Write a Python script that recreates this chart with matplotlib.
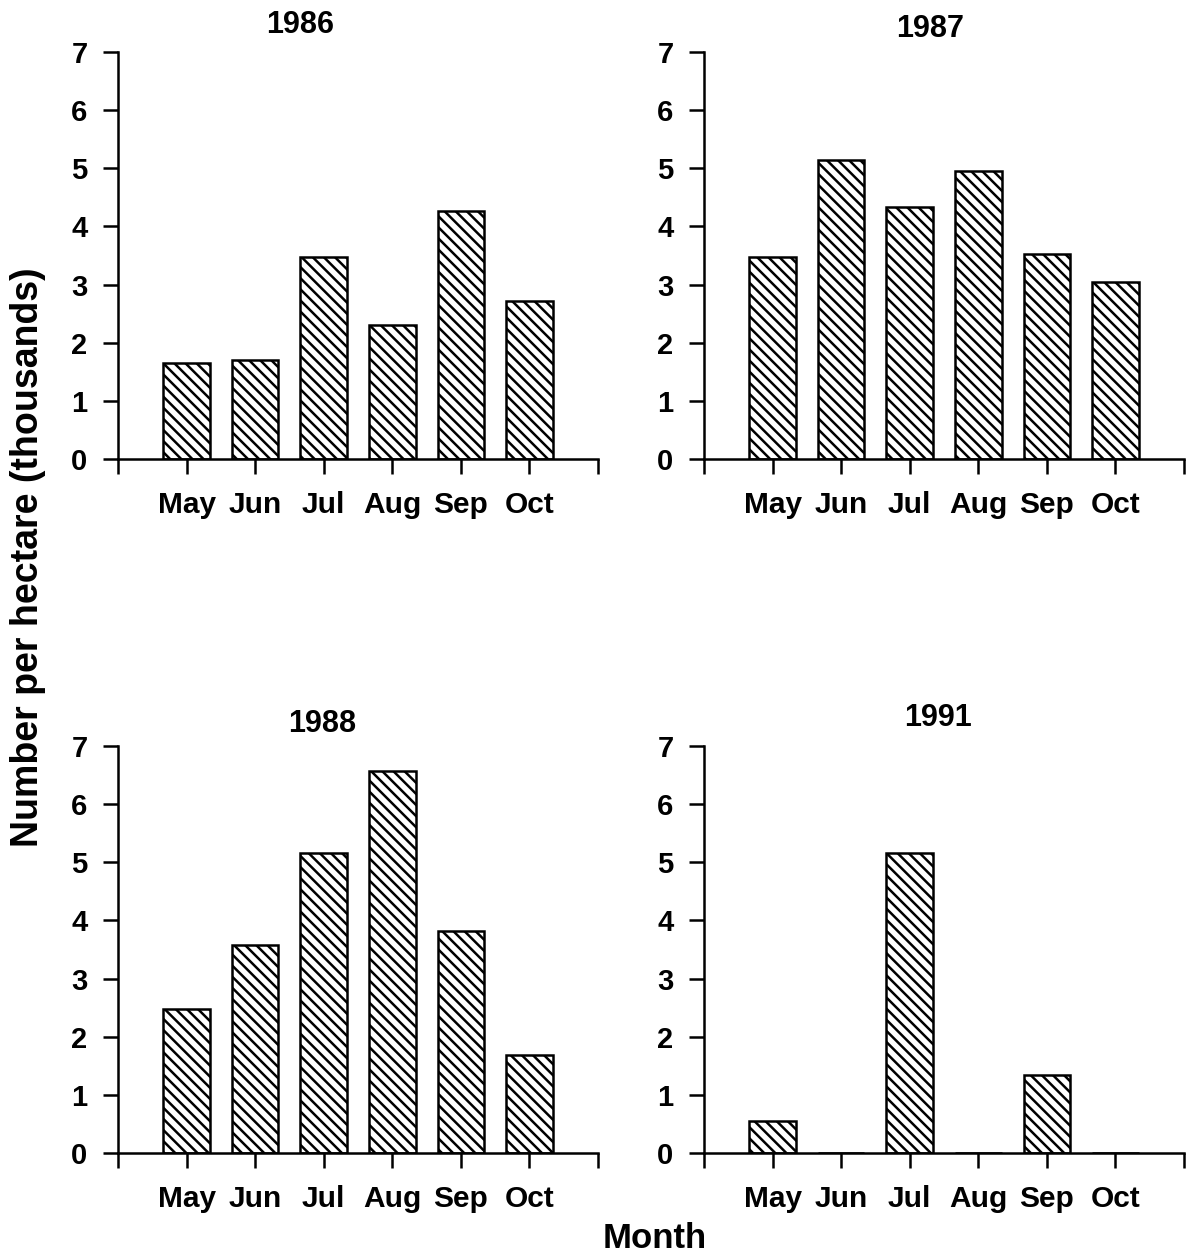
import matplotlib.pyplot as plt

plt.rcParams['font.family'] = ['Liberation Sans', 'DejaVu Sans']
plt.rcParams['font.weight'] = 'bold'
plt.rcParams['hatch.linewidth'] = 1.8

months = ["May", "Jun", "Jul", "Aug", "Sep", "Oct"]

years = ["1986", "1987", "1988", "1991"]
vals_1986 = [1.65, 1.70, 3.48, 2.30, 4.26, 2.71]
vals_1987 = [3.48, 5.15, 4.34, 4.96, 3.53, 3.05]
vals_1988 = [2.48, 3.57, 5.16, 6.57, 3.82, 1.69]
vals_1991 = [0.55, 0.0, 5.16, 0.0, 1.34, 0.0]

# axes boxes [left, bottom, width, height] in figure fractions
W, H = 1186, 1259
boxes = [
    [118 / W, 1 - 459 / H, 480 / W, 407 / H],
    [704 / W, 1 - 459 / H, 480 / W, 407 / H],
    [118 / W, 1 - 1153 / H, 480 / W, 407 / H],
    [704 / W, 1 - 1153 / H, 480 / W, 407 / H],
]
# title positions (axes fraction x, pixels above top)
title_pos = [(0.379, 27), (0.471, 23), (0.425, 22), (0.4875, 28)]

fig = plt.figure(figsize=(W / 100, H / 100), dpi=100)

all_vals = [vals_1986, vals_1987, vals_1988, vals_1991]
for box, year, vals, (tx, ty) in zip(boxes, years, all_vals, title_pos):
    ax = fig.add_axes(box)
    pos = list(range(1, len(months) + 1))
    ax.bar(pos, vals, width=0.68, color="white", edgecolor="black",
           linewidth=1.8, hatch="\\\\\\")
    ax.set_xlim(0, 7)
    ax.set_ylim(0, 7)
    ax.spines["top"].set_visible(False)
    ax.spines["right"].set_visible(False)
    for s in ("left", "bottom"):
        ax.spines[s].set_linewidth(1.8)
    ax.set_xticks(range(0, 8))
    ax.set_xticklabels([""] + months + [""])
    ax.set_yticks(range(0, 8))
    ax.tick_params(axis="both", direction="out", length=11, width=1.8,
                   labelsize=21)
    ax.tick_params(axis="x", pad=12, labelsize=21.5)
    ax.tick_params(axis="y", pad=11)
    for t in ax.get_xticklines() + ax.get_yticklines():
        t.set_clip_on(False)
    ax.text(tx, 1 + ty / 407, year, transform=ax.transAxes, ha="center",
            va="center", fontsize=22, fontweight="bold")

fig.text(28 / W, 1 - 557 / H, "Number per hectare (thousands)", rotation=90,
         ha="center", va="center", fontsize=27, fontweight="bold")
fig.text(655 / W, 1 - 1238 / H, "Month", ha="center", va="center",
         fontsize=25, fontweight="bold")

fig.savefig("out.png", dpi=100)
